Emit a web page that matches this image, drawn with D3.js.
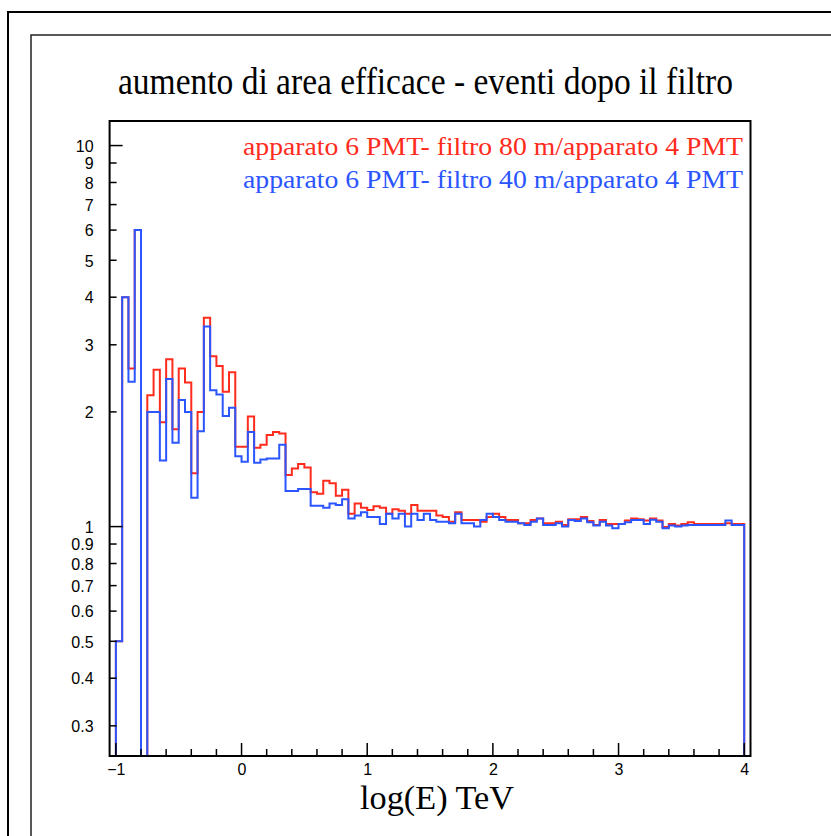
<!DOCTYPE html>
<html>
<head>
<meta charset="utf-8">
<script src="https://cdn.jsdelivr.net/npm/d3@7/dist/d3.min.js"></script>
<style>
  html, body { margin: 0; padding: 0; background: #ffffff; }
  svg { display: block; }
</style>
</head>
<body>
<svg id="chart" width="831" height="836"></svg>
<script>
// ---------------- DATA ----------------
const chartTitle = "aumento di area efficace - eventi dopo il filtro";
const xAxisTitle = "log(E) TeV";
const seriesNames = [
  "apparato 6 PMT- filtro 80 m/apparato 4 PMT",
  "apparato 6 PMT- filtro 40 m/apparato 4 PMT"
];
// lower edges of the 0.05-wide bins
const binLow = [
  -1.05, -1.00, -0.95, -0.90, -0.85, -0.80, -0.75, -0.70, -0.65, -0.60,
  -0.55, -0.50, -0.45, -0.40, -0.35, -0.30, -0.25, -0.20, -0.15, -0.10,
  -0.05,  0.00,  0.05,  0.10,  0.15,  0.20,  0.25,  0.30,  0.35,  0.40,
   0.45,  0.50,  0.55,  0.60,  0.65,  0.70,  0.75,  0.80,  0.85,  0.90,
   0.95,  1.00,  1.05,  1.10,  1.15,  1.20,  1.25,  1.30,  1.35,  1.40,
   1.45,  1.50,  1.55,  1.60,  1.65,  1.70,  1.75,  1.80,  1.85,  1.90,
   1.95,  2.00,  2.05,  2.10,  2.15,  2.20,  2.25,  2.30,  2.35,  2.40,
   2.45,  2.50,  2.55,  2.60,  2.65,  2.70,  2.75,  2.80,  2.85,  2.90,
   2.95,  3.00,  3.05,  3.10,  3.15,  3.20,  3.25,  3.30,  3.35,  3.40,
   3.45,  3.50,  3.55,  3.60,  3.65,  3.70,  3.75,  3.80,  3.85,  3.90,
   3.95,  4.00
];
const binWidth = 0.05;
// filtro 80 m / 4 PMT (red)
const ratio80 = [
  0,     0.5,   4.0,   2.6,   6.0,   0,     2.21,  2.58,  1.88,  2.75,
  1.80,  2.60,  2.39,  1.38,  2.0,   3.53,  2.80,  2.64,  2.26,  2.54,
  1.62,  1.62,  1.945, 1.61,  1.64,  1.74,  1.77,  1.755, 1.365, 1.42,
  1.46,  1.43,  1.23,  1.22,  1.32,  1.30,  1.205, 1.25,  1.08,  1.15,
  1.12,  1.105, 1.13,  1.12,  1.08,  1.11,  1.10,  1.08,  1.14,  1.10,
  1.10,  1.10,  1.07,  1.06,  1.03,  1.09,  1.04,  1.04,  1.04,  1.03,
  1.06,  1.08,  1.06,  1.04,  1.04,  1.02,  1.02,  1.04,  1.05,  1.02,
  1.02,  1.03,  1.01,  1.045, 1.045, 1.06,  1.035, 1.01,  1.04,  1.016,
  1.016, 1.016, 1.037, 1.05,  1.045, 1.037, 1.05,  1.037, 0.997, 1.016,
  1.006, 1.016, 1.026, 1.016, 1.016, 1.016, 1.016, 1.016, 1.02,  1.016,
  1.016, 0
];
// filtro 40 m / 4 PMT (blue)
const ratio40 = [
  0,     0.5,   4.0,   2.4,   6.0,   0,     2.0,   2.0,   1.49,  2.44,
  1.66,  2.15,  2.0,   1.19,  1.78,  3.35,  2.28,  2.22,  1.95,  2.05,
  1.53,  1.48,  1.77,  1.47,  1.50,  1.51,  1.51,  1.64,  1.24,  1.24,
  1.255, 1.255, 1.135, 1.135, 1.12,  1.15,  1.14,  1.18,  1.05,  1.07,
  1.09,  1.06,  1.06,  1.016, 1.08,  1.05,  1.08,  1.0,   1.08,  1.04,
  1.08,  1.04,  1.03,  1.03,  1.02,  1.08,  1.02,  1.02,  1.0,   1.04,
  1.08,  1.06,  1.04,  1.03,  1.03,  1.02,  1.01,  1.03,  1.05,  1.01,
  1.01,  1.02,  1.0,   1.04,  1.035, 1.05,  1.026, 1.006, 1.03,  1.006,
  0.99,  1.016, 1.026, 1.04,  1.04,  1.016, 1.042, 1.03,  0.99,  1.006,
  1.0,   1.006, 1.01,  1.01,  1.01,  1.01,  1.01,  1.01,  1.037, 1.01,
  1.01,  0
];
const xTickMajor = [-1, 0, 1, 2, 3, 4];
const xTickLabels = ["\u22121", "0", "1", "2", "3", "4"];
const yTickValues = [0.3, 0.4, 0.5, 0.6, 0.7, 0.8, 0.9, 1, 2, 3, 4, 5, 6, 7, 8, 9, 10];
const yTickLabels = ["0.3", "0.4", "0.5", "0.6", "0.7", "0.8", "0.9", "1", "2", "3", "4", "5", "6", "7", "8", "9", "10"];
const yMajor = [1, 10];

// ---------------- LAYOUT ----------------
const W = 831, H = 836;
const frame = { left: 109.6, right: 750.5, top: 121, bottom: 756 };
const colRed = "#ff2b1c";
const colBlue = "#2a55ff";
const serif = "'Liberation Serif', 'DejaVu Serif', 'Times New Roman', serif";
const sans = "'Liberation Sans', Arial, Helvetica, sans-serif";

const svg = d3.select("#chart");
svg.append("rect").attr("width", W).attr("height", H).attr("fill", "#fff");

// outer canvas frames
svg.append("path")
  .attr("d", `M8,${H} L8,12 L${W},12`)
  .attr("fill", "none").attr("stroke", "#000").attr("stroke-width", 2);
svg.append("path")
  .attr("d", `M31,${H} L31,35 L${W},35`)
  .attr("fill", "none").attr("stroke", "#222").attr("stroke-width", 1.5);

const x = d3.scaleLinear().domain([-1.05, 4.05]).range([frame.left, frame.right]);
const y = d3.scaleLog().domain([0.25, 11.6]).range([frame.bottom, frame.top]);

// clip
svg.append("defs").append("clipPath").attr("id", "plotclip")
  .append("rect")
  .attr("x", frame.left).attr("y", frame.top)
  .attr("width", frame.right - frame.left).attr("height", frame.bottom - frame.top);

// histogram outlines
function histPoints(vals) {
  const pts = [];
  const yv = v => (v > 0 ? Math.min(Math.max(y(v), frame.top - 2), frame.bottom + 2) : frame.bottom + 2);
  pts.push([x(binLow[0]), frame.bottom + 2]);
  binLow.forEach((lo, i) => {
    pts.push([x(lo), yv(vals[i])]);
    pts.push([x(lo + binWidth), yv(vals[i])]);
  });
  pts.push([x(binLow[binLow.length - 1] + binWidth), frame.bottom + 2]);
  return pts;
}
const line = d3.line();
const gHist = svg.append("g").attr("clip-path", "url(#plotclip)");
gHist.append("path").attr("d", line(histPoints(ratio80)))
  .attr("fill", "none").attr("stroke", colRed).attr("stroke-width", 2)
  .attr("stroke-linejoin", "miter");
gHist.append("path").attr("d", line(histPoints(ratio40)))
  .attr("fill", "none").attr("stroke", colBlue).attr("stroke-width", 2)
  .attr("stroke-linejoin", "miter");

// frame
svg.append("rect")
  .attr("x", frame.left).attr("y", frame.top)
  .attr("width", frame.right - frame.left).attr("height", frame.bottom - frame.top)
  .attr("fill", "none").attr("stroke", "#000").attr("stroke-width", 2);

// x axis ticks (inside, upward)
const xMinor = d3.range(-1, 4.0001, 0.2).map(v => +v.toFixed(2));
const xAxis = d3.axisBottom(x)
  .tickValues(xTickMajor)
  .tickSize(0)
  .tickFormat((d, i) => xTickLabels[i]);
const gx = svg.append("g").attr("transform", `translate(0,${frame.bottom})`).call(xAxis);
gx.select(".domain").remove();
gx.selectAll("text").attr("dy", 0).attr("y", 19)
  .attr("font-family", sans).attr("font-size", 16).attr("fill", "#000");
svg.append("g").selectAll("line").data(xMinor).join("line")
  .attr("x1", d => x(d)).attr("x2", d => x(d))
  .attr("y1", frame.bottom)
  .attr("y2", d => frame.bottom - (Math.abs(d - Math.round(d)) < 1e-6 ? 13 : 7))
  .attr("stroke", "#000").attr("stroke-width", 1.5);

// y axis ticks (inside, rightward)
const yAxis = d3.axisLeft(y)
  .tickValues(yTickValues)
  .tickSize(0)
  .tickFormat((d, i) => yTickLabels[i]);
const gy = svg.append("g").attr("transform", `translate(${frame.left},0)`).call(yAxis);
gy.select(".domain").remove();
gy.selectAll("text").attr("x", -16).attr("dy", "0.36em")
  .attr("font-family", sans).attr("font-size", 16).attr("fill", "#000");
svg.append("g").selectAll("line").data(yTickValues).join("line")
  .attr("x1", frame.left)
  .attr("x2", d => frame.left + (yMajor.includes(d) ? 13 : 7))
  .attr("y1", d => y(d)).attr("y2", d => y(d))
  .attr("stroke", "#000").attr("stroke-width", 1.5);

// title
svg.append("text")
  .attr("x", 118).attr("y", 94)
  .attr("font-family", serif).attr("font-size", 37)
  .attr("textLength", 615).attr("lengthAdjust", "spacingAndGlyphs")
  .attr("fill", "#000")
  .text(chartTitle);

// legend
const legColors = [colRed, colBlue];
const legY = [155, 188];
seriesNames.forEach((s, i) => {
  svg.append("text")
    .attr("x", 243).attr("y", legY[i])
    .attr("font-family", serif).attr("font-size", 25)
    .attr("textLength", 500).attr("lengthAdjust", "spacingAndGlyphs")
    .attr("fill", legColors[i])
    .text(s);
});

// x axis title
svg.append("text")
  .attr("x", 360).attr("y", 809)
  .attr("font-family", serif).attr("font-size", 33)
  .attr("textLength", 154).attr("lengthAdjust", "spacingAndGlyphs")
  .attr("fill", "#000")
  .text(xAxisTitle);
</script>
</body>
</html>
